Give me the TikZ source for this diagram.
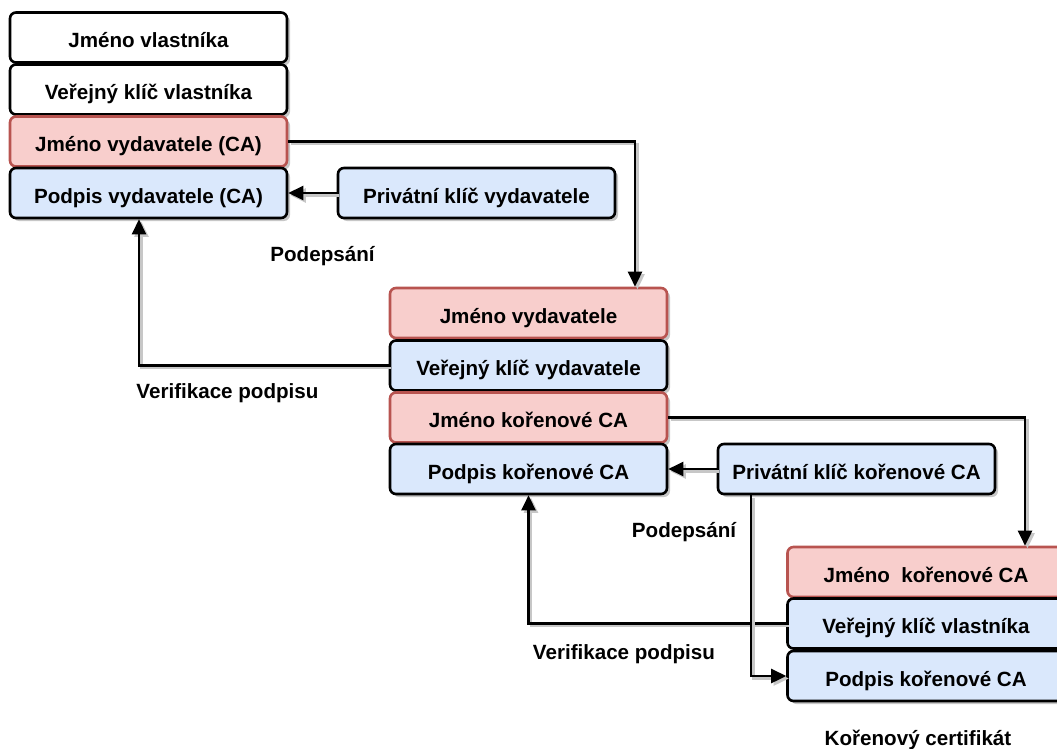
\documentclass[tikz,border=0pt]{standalone}
\usepackage{fontspec}
\setmainfont{Liberation Sans}
\usetikzlibrary{arrows.meta,shadows}
\definecolor{redfill}{HTML}{F8CECC}
\definecolor{redline}{HTML}{B85450}
\definecolor{bluefill}{HTML}{DAE8FC}
\begin{document}
\begin{tikzpicture}[x=1pt,y=-1pt,line width=2.6pt,
    font=\fontsize{20.6}{24}\selectfont\bfseries,
    field/.style={draw=black,fill=white,rounded corners=6pt,
      minimum width=277pt,minimum height=50pt,inner sep=0pt,
      text height=20pt,text depth=0pt,
      drop shadow={shadow xshift=3pt,shadow yshift=-3pt,fill=black!22,opacity=1}},
    namefield/.style={field,draw=redline,fill=redfill},
    keyfield/.style={field,fill=bluefill},
    link/.style={-{Triangle[length=15pt,width=14pt]},
      preaction={draw=black!22,transform canvas={shift={(2.5pt,-2.5pt)}}}},
    caption/.style={inner sep=0pt,text height=15pt,text depth=0pt}]
    \useasboundingbox (0,0) rectangle (1057,749);
    % owner certificate
    \node[field] (ownname) at (148.5,37.5) {Jméno vlastníka};
    \node[field] (ownkey) at (148.5,89.5) {Veřejný klíč vlastníka};
    \node[namefield] (issname) at (148.5,141.5) {Jméno vydavatele (CA)};
    \node[keyfield] (isssig) at (148.5,193) {Podpis vydavatele (CA)};
    \node[keyfield] (isspriv) at (476.5,193) {Privátní klíč vydavatele};
    % issuer certificate
    \node[namefield] (midname) at (528.5,313) {Jméno vydavatele};
    \node[keyfield] (midkey) at (528.5,365.5) {Veřejný klíč vydavatele};
    \node[namefield] (rootname) at (528.5,417.5) {Jméno kořenové CA};
    \node[keyfield] (rootsig) at (528.5,469) {Podpis kořenové CA};
    \node[keyfield] (rootpriv) at (856.5,469) {Privátní klíč kořenové CA};
    % root certificate
    \node[namefield] (certname) at (926,572) {Jméno\ \ kořenové CA};
    \node[keyfield] (certkey) at (926,623.5) {Veřejný klíč vlastníka};
    \node[keyfield] (certsig) at (926,676) {Podpis kořenové CA};
    % captions
    \node[caption] (sign1) at (322.5,254) {Podepsání};
    \node[caption] (verify1) at (227.5,391) {Verifikace podpisu};
    \node[caption] (sign2) at (684,530) {Podepsání};
    \node[caption] (verify2) at (624,652) {Verifikace podpisu};
    \node[caption] (rootcap) at (918,738) {Kořenový certifikát};
    % connectors
    \draw[link] (issname.east) -| ([xshift=106.5pt]midname.north);
    \draw[link] (isspriv.west) -- (isssig.east);
    \draw[link] (midkey.west) -| ([xshift=-9.5pt]isssig.south);
    \draw[link] (rootname.east) -| ([xshift=99pt]certname.north);
    \draw[link] (rootpriv.west) -- (rootsig.east);
    \draw[link] (certkey.west) -| (rootsig.south);
    \draw[link] ([xshift=-105.5pt]rootpriv.south) |- (certsig.west);
  \end{tikzpicture}
\end{document}
